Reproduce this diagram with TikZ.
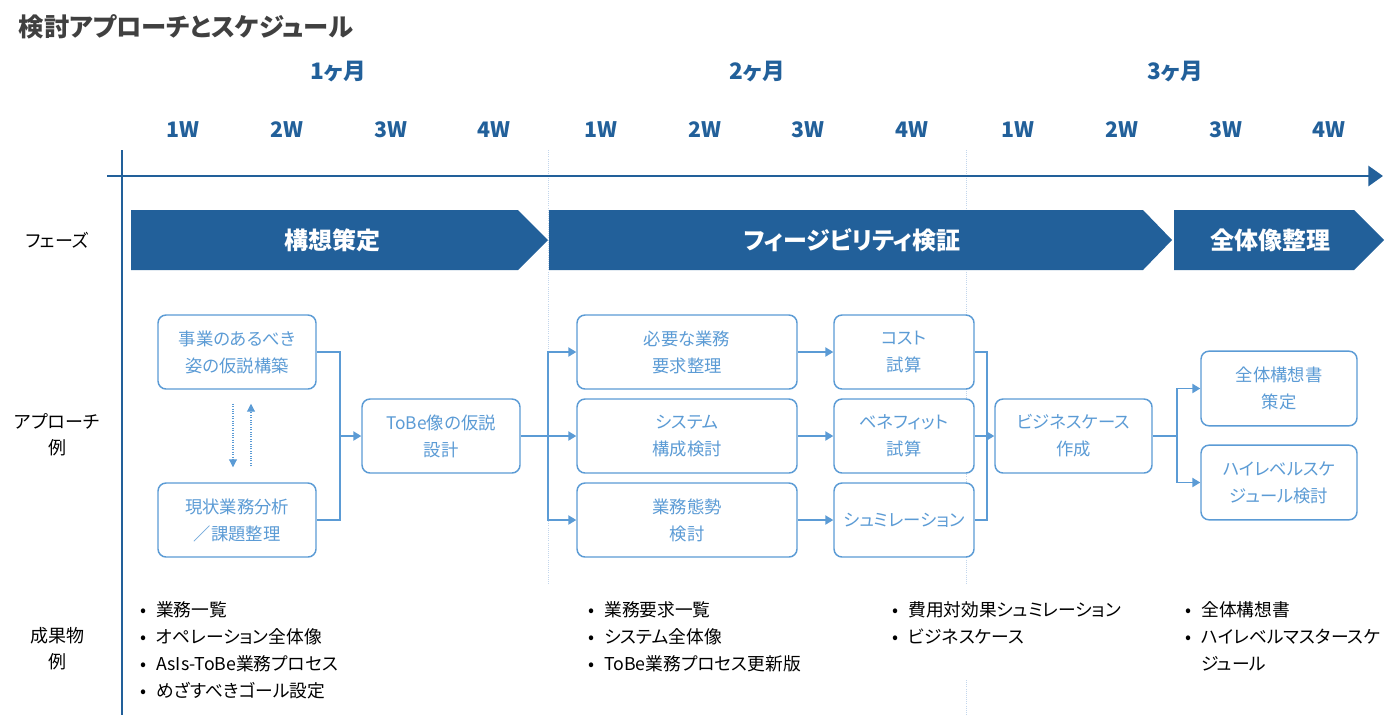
\documentclass[tikz,border=0pt]{standalone}
\usepackage{fontspec}
\setmainfont{Noto Sans CJK JP}[RawFeature={+palt}]
\usetikzlibrary{arrows.meta,calc}
\definecolor{navy}{HTML}{22609A}
\definecolor{lblue}{HTML}{5B9BD5}
\definecolor{ttl}{HTML}{404040}
\definecolor{gridc}{HTML}{C3D6EC}
\newcommand\bul{\makebox[12pt][l]{•}}
\begin{document}
\begin{tikzpicture}[x=0.75pt,y=-0.75pt,
  box/.style={draw=lblue, line width=1.1pt, rounded corners=6pt, fill=white, text=lblue,
    align=center, font=\fontsize{13pt}{20.25pt}\selectfont, inner sep=0pt, minimum height=55.5pt},
  con/.style={draw=lblue, line width=1.1pt},
  arr/.style={con, -{Triangle[length=6pt,width=7pt]}},
  darr/.style={draw=lblue, line width=0.8pt, densely dotted, -{Triangle[length=6pt,width=6pt]}},
  phasetxt/.style={text=white, font=\fontsize{18pt}{20pt}\selectfont\bfseries},
  month/.style={text=navy, font=\fontsize{17pt}{20pt}\selectfont\bfseries},
  week/.style={text=navy, font=\fontsize{16pt}{20pt}\selectfont\bfseries},
  lab/.style={align=center, font=\fontsize{13.5pt}{19.5pt}\selectfont},
  deliv/.style={anchor=north west, align=left, inner sep=0pt, font=\fontsize{13.3pt}{20.25pt}\selectfont},
  gridl/.style={draw=gridc, line width=0.6pt, densely dotted}
]
\useasboundingbox (0,0) rectangle (1400,715);
% title
\node[anchor=west, text=ttl, font=\fontsize{19pt}{22pt}\selectfont\bfseries] (title) at (14,27) {検討アプローチとスケジュール};
% months
\node[month] (m1) at (338,72) {1ヶ月};
\node[month] (m2) at (757,72) {2ヶ月};
\node[month] (m3) at (1175,72) {3ヶ月};
% weeks
\foreach \i/\x/\t in {1/183/1W,2/287/2W,3/391/3W,4/494/4W,5/601/1W,6/705/2W,7/808/3W,8/912/4W,9/1018/1W,10/1122/2W,11/1226/3W,12/1329/4W}
  \node[week] (w\i) at (\x,130) {\t};
% grid lines
\draw[gridl] (548,150) -- (548,585);
\draw[gridl] (966,150) -- (966,585);
\draw[gridl] (966,680) -- (966,715);
% axes
\draw[navy, line width=1.6pt] (122,150) -- (122,715);
\draw[navy, line width=2.2pt, -{Triangle[length=11pt,width=15pt]}] (107,176) -- (1383,176);
% phases
\fill[navy] (131,210) -- (518,210) -- (548,240) -- (518,270) -- (131,270) -- cycle;
\fill[navy] (549,210) -- (1143,210) -- (1172,240) -- (1143,270) -- (549,270) -- cycle;
\fill[navy] (1174,210) -- (1354,210) -- (1384,240) -- (1354,270) -- (1174,270) -- cycle;
\node[phasetxt] (p1) at (332,240) {構想策定};
\node[phasetxt] (p2) at (852,240) {フィージビリティ検証};
\node[phasetxt] (p3) at (1270,240) {全体像整理};
% left labels
\node[lab] (l1) at (57,240) {フェーズ};
\node[lab] (l2) at (57,435) {アプローチ\\例};
\node[lab] (l3) at (57,649) {成果物\\例};
% boxes
\node[box, minimum width=118.5pt] (b1) at (237,352) {事業のあるべき\\姿の仮説構築};
\node[box, minimum width=118.5pt] (b2) at (237,520) {現状業務分析\\／課題整理};
\node[box, minimum width=118.5pt] (b3) at (441,436) {ToBe像の仮説\\設計};
\node[box, minimum width=165pt] (b4) at (687,352) {必要な業務\\要求整理};
\node[box, minimum width=165pt] (b5) at (687,436) {システム\\構成検討};
\node[box, minimum width=165pt] (b6) at (687,520) {業務態勢\\検討};
\node[box, minimum width=105pt] (b7) at (904,352) {コスト\\試算};
\node[box, minimum width=105pt] (b8) at (904,436) {ベネフィット\\試算};
\node[box, minimum width=105pt] (b9) at (904,520) {シュミレーション};
\node[box, minimum width=117.75pt] (b10) at (1073.5,436) {ビジネスケース\\作成};
\node[box, minimum width=117pt, minimum height=56pt] (b11) at (1279,388.5) {全体構想書\\策定};
\node[box, minimum width=117pt, minimum height=56pt] (b12) at (1279,482.5) {ハイレベルスケ\\ジュール検討};
% dotted arrows
\draw[darr] ($(b1.south)+(-4,14)$) -- ($(b2.north)+(-4,-15)$);
\draw[darr] ($(b2.north)+(14,-16)$) -- ($(b1.south)+(14,14)$);
% connectors
\coordinate (j1) at (340,436);
\draw[con] (b1.east) -| (j1);
\draw[con] (b2.east) -| (j1);
\draw[arr] (j1) -- (b3.west);
\coordinate (j2) at (548,436);
\draw[con] (b3.east) -- (j2);
\draw[arr] (j2) |- (b4.west);
\draw[arr] (j2) -- (b5.west);
\draw[arr] (j2) |- (b6.west);
\draw[arr] (b4.east) -- (b7.west);
\draw[arr] (b5.east) -- (b8.west);
\draw[arr] (b6.east) -- (b9.west);
\coordinate (j3) at (987,436);
\draw[con] (b7.east) -| (j3);
\draw[con] (b9.east) -| (j3);
\draw[arr] (b8.east) -- (b10.west);
\coordinate (j4) at (1177,436);
\draw[con] (b10.east) -- (j4);
\draw[arr] (j4) |- (b11.west);
\draw[arr] (j4) |- (b12.west);
% deliverables
\node[deliv] (d1) at (140,601) {\bul 業務一覧\\\bul オペレーション全体像\\\bul AsIs-ToBe業務プロセス\\\bul めざすべきゴール設定};
\node[deliv] (d2) at (588,601) {\bul 業務要求一覧\\\bul システム全体像\\\bul ToBe業務プロセス更新版};
\node[deliv] (d3) at (892,601) {\bul 費用対効果シュミレーション\\\bul ビジネスケース};
\node[deliv] (d4) at (1185,601) {\bul 全体構想書\\\bul ハイレベルマスタースケ\\\phantom{\bul}ジュール};
\end{tikzpicture}
\end{document}
